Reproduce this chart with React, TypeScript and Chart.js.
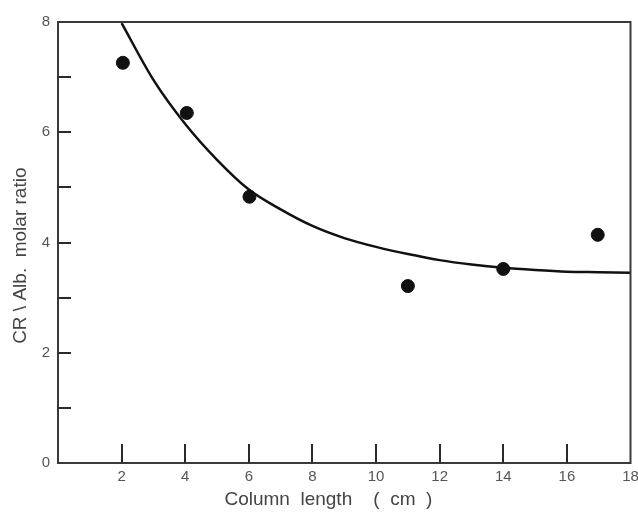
import React, { useEffect, useRef } from "react";
import { Chart, registerables } from "chart.js";

Chart.register(...registerables);

const pointX = [2.04, 4.05, 6.02, 11.0, 14.0, 16.97];
const pointY = [7.26, 6.35, 4.83, 3.21, 3.52, 4.14];

const curveX = [2, 3, 4, 5, 6, 7, 8, 9, 10, 11, 12, 13, 14, 15, 16, 17, 18];
const curveY = [7.98, 6.95, 6.15, 5.5, 4.96, 4.6, 4.3, 4.08, 3.92, 3.79, 3.68, 3.6, 3.54, 3.5, 3.47, 3.46, 3.45];

const xMin = 0, xMax = 18, xStep = 2;
const yMin = 0, yMax = 8, yStep = 1;
const xTickMarks = [2, 4, 6, 8, 10, 12, 14, 16];
const yTickMarks = [1, 2, 3, 4, 5, 6, 7];

const xTitle = "Column  length    (  cm  )      ";
const yTitle = "CR \\ Alb.  molar ratio     ";

const framePlugin = {
  id: "frame",
  afterDraw(chart: any) {
    const { ctx, chartArea: a, scales } = chart;
    ctx.save();
    ctx.strokeStyle = "#3a3a3a";
    ctx.lineWidth = 2;
    ctx.strokeRect(a.left, a.top, a.right - a.left, a.bottom - a.top);
    ctx.strokeStyle = "#2a2a2a";
    ctx.lineWidth = 2;
    ctx.beginPath();
    for (const v of xTickMarks) {
      const px = Math.round(scales.x.getPixelForValue(v));
      ctx.moveTo(px, a.bottom);
      ctx.lineTo(px, a.bottom - 19);
    }
    for (const v of yTickMarks) {
      const py = Math.round(scales.y.getPixelForValue(v));
      ctx.moveTo(a.left, py);
      ctx.lineTo(a.left + 13, py);
    }
    ctx.stroke();
    ctx.restore();
  },
};

export default function App() {
  const ref = useRef<HTMLCanvasElement | null>(null);
  useEffect(() => {
    if (!ref.current) return;
    const chart = new Chart(ref.current, {
      type: "scatter",
      data: {
        datasets: [
          {
            data: curveX.map((x, i) => ({ x, y: curveY[i] })),
            showLine: true,
            borderColor: "#111",
            borderWidth: 2.5,
            pointRadius: 0,
            tension: 0.4,
            cubicInterpolationMode: "monotone",
          },
          {
            data: pointX.map((x, i) => ({ x, y: pointY[i] })),
            backgroundColor: "#111",
            borderColor: "#111",
            pointRadius: 6.5,
            showLine: false,
          },
        ],
      },
      options: {
        responsive: false,
        animation: false,
        devicePixelRatio: 1,
        layout: { padding: { top: 22, right: 6, left: 0, bottom: 0 } },
        plugins: { legend: { display: false }, tooltip: { enabled: false } },
        scales: {
          x: {
            type: "linear",
            min: xMin,
            max: xMax,
            grid: { display: false, drawTicks: false },
            border: { display: false },
            ticks: {
              stepSize: xStep,
              padding: 5,
              color: "#555",
              font: { family: "Liberation Sans", size: 15 },
              maxRotation: 0,
              callback: (v: any) => (v === 0 ? "" : String(v)),
            },
            title: {
              display: true,
              text: xTitle,
              color: "#444",
              font: { family: "Liberation Sans", size: 19 },
              padding: { top: 0, bottom: 5 },
            },
            afterFit: (s: any) => {
              s.height = 53;
              s.paddingRight = 0;
              s.paddingLeft = 0;
            },
          },
          y: {
            type: "linear",
            min: yMin,
            max: yMax,
            grid: { display: false, drawTicks: false },
            border: { display: false },
            ticks: {
              stepSize: yStep,
              padding: 8,
              color: "#555",
              font: { family: "Liberation Sans", size: 15 },
              callback: (v: any) => (Number(v) % 2 === 0 ? String(v) : ""),
            },
            title: {
              display: true,
              text: yTitle,
              color: "#444",
              font: { family: "Liberation Sans", size: 19 },
              padding: { top: 9, bottom: 0 },
            },
            afterFit: (s: any) => {
              s.width = 58;
            },
          },
        },
      },
      plugins: [framePlugin],
    });
    return () => chart.destroy();
  }, []);
  return (
    <div style={{ position: "absolute", left: 0, top: 0, width: 638, height: 516, background: "#fff" }}>
      <canvas ref={ref} width={638} height={516} />
    </div>
  );
}
